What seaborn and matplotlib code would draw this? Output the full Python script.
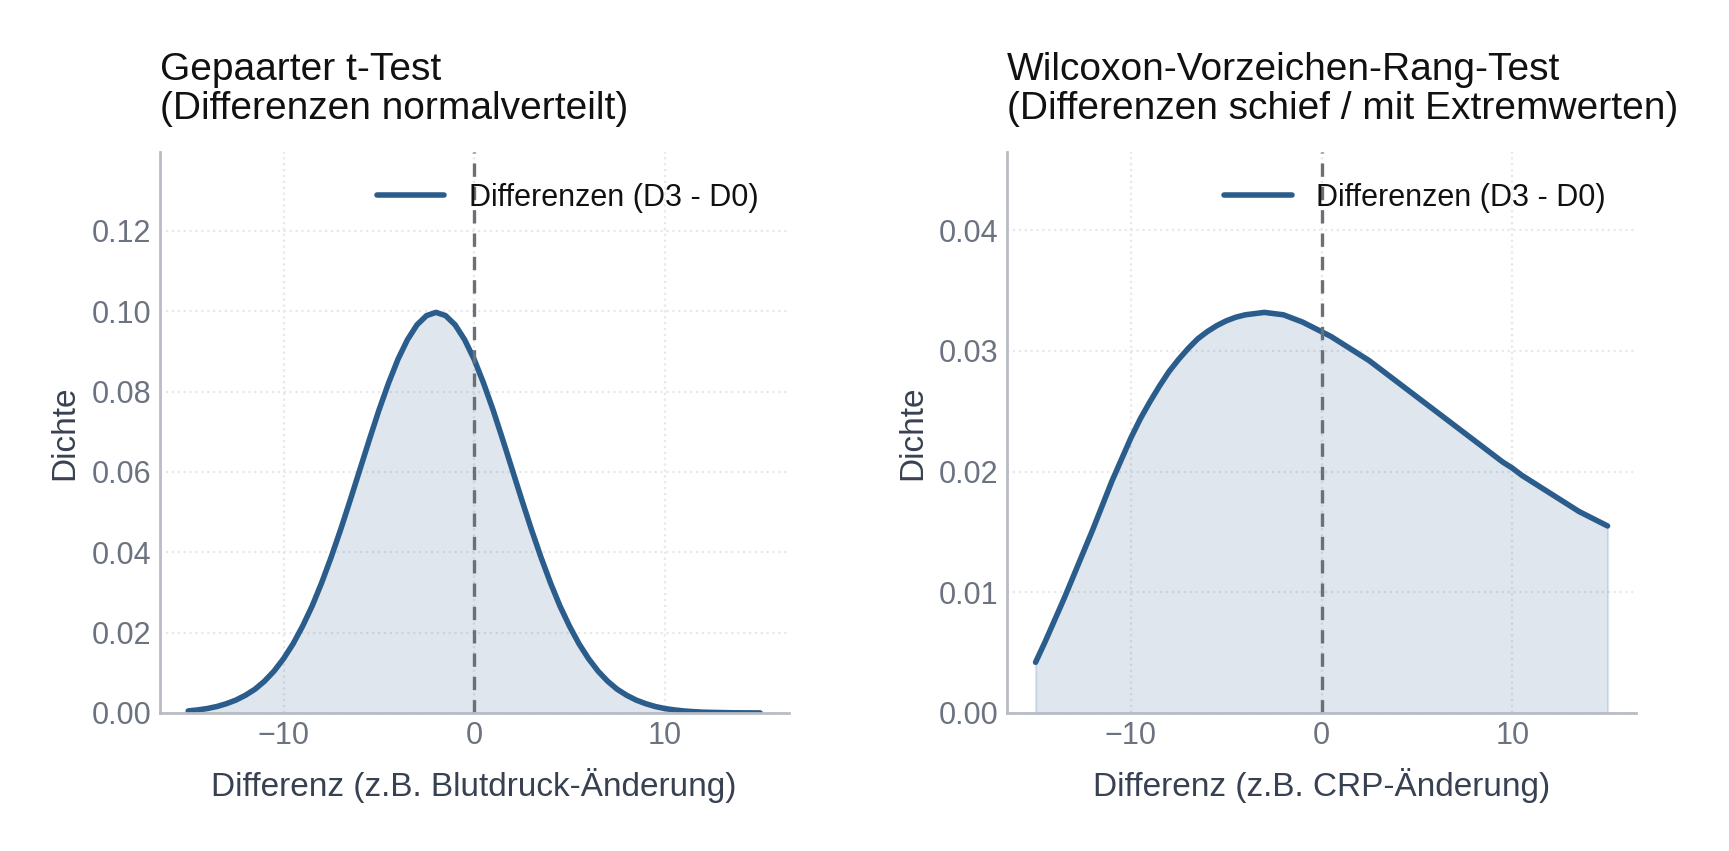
import numpy as np
import pandas as pd
import matplotlib
matplotlib.use("Agg")
import matplotlib.pyplot as plt
import seaborn as sns

# ---- data ----
x_vals = [-15, -14.5, -14, -13.5, -13, -12.5, -12, -11.5, -11, -10.5, -10, -9.5,
          -9, -8.5, -8, -7.5, -7, -6.5, -6, -5.5, -5, -4.5, -4, -3.5, -3, -2.5,
          -2, -1.5, -1, -0.5, 0, 0.5, 1, 1.5, 2, 2.5, 3, 3.5, 4, 4.5, 5, 5.5,
          6, 6.5, 7, 7.5, 8, 8.5, 9, 9.5, 10, 10.5, 11, 11.5, 12, 12.5, 13, 13.5,
          14, 14.5, 15]

dens_paired = [0.0005, 0.00076, 0.0011, 0.0016, 0.0023, 0.0032, 0.0044, 0.0059,
               0.0079, 0.0104, 0.0135, 0.0172, 0.0216, 0.0266, 0.0324, 0.0388,
               0.0457, 0.0530, 0.0605, 0.0680, 0.0753, 0.0820, 0.0880, 0.0929,
               0.0966, 0.0989, 0.0997, 0.0989, 0.0966, 0.0929, 0.0880, 0.0820,
               0.0753, 0.0680, 0.0605, 0.0530, 0.0457, 0.0388, 0.0324, 0.0266,
               0.0216, 0.0172, 0.0135, 0.0104, 0.0079, 0.0059, 0.0044, 0.0032,
               0.0023, 0.0016, 0.0011, 0.00076, 0.0005, 0.00033, 0.0002, 0.00014,
               0.0001, 0.00005, 0.00003, 0.00002, 0.00001]

dens_wilcoxon = [0.0042, 0.0059, 0.0077, 0.0095, 0.0114, 0.0133, 0.0152, 0.0172,
                 0.0192, 0.0210, 0.0228, 0.0244, 0.0258, 0.0271, 0.0283, 0.0293,
                 0.0302, 0.0310, 0.0316, 0.0321, 0.0325, 0.0328, 0.0330, 0.0331,
                 0.0332, 0.0331, 0.0330, 0.0327, 0.0324, 0.0320, 0.0316, 0.0312,
                 0.0307, 0.0302, 0.0297, 0.0292, 0.0286, 0.0280, 0.0274, 0.0268,
                 0.0262, 0.0256, 0.0250, 0.0244, 0.0238, 0.0232, 0.0226, 0.0220,
                 0.0214, 0.0208, 0.0203, 0.0197, 0.0192, 0.0187, 0.0182, 0.0177,
                 0.0172, 0.0167, 0.0163, 0.0159, 0.0155]

titles = ["Gepaarter t-Test\n(Differenzen normalverteilt)",
          "Wilcoxon-Vorzeichen-Rang-Test\n(Differenzen schief / mit Extremwerten)"]
xlabels = ["Differenz (z.B. Blutdruck-Änderung)", "Differenz (z.B. CRP-Änderung)"]
ylabel = "Dichte"
legend_label = "Differenzen (D3 - D0)"

# ---- style ----
sns.set_theme(style="white")
plt.rcParams['font.family'] = ['Liberation Sans', 'DejaVu Sans']

LINE = "#2b5d8c"
VLINE = "#6b6f76"
TICK = "#6b7280"
LABEL = "#374151"
SPINE = "#b8bcc4"
GRID = "#e6e8ec"

fig = plt.figure(figsize=(8.645, 4.255), dpi=200)
ax1 = fig.add_axes([0.0923, 0.1622, 0.3639, 0.659])
ax2 = fig.add_axes([0.5824, 0.1622, 0.3639, 0.659])

for ax, dens, title, xl in zip([ax1, ax2], [dens_paired, dens_wilcoxon], titles, xlabels):
    df = pd.DataFrame({"x": x_vals, "y": dens})
    sns.lineplot(data=df, x="x", y="y", ax=ax, color=LINE, linewidth=2.0,
                 label=legend_label)
    ax.fill_between(df["x"], df["y"], color=LINE, alpha=0.15, linewidth=0.8)
    ax.axvline(0, color=VLINE, linestyle=(0, (4, 3)), linewidth=1.2)
    ax.set_ylim(0, max(dens) * 1.4)
    ax.set_xlim(-16.5, 16.5)
    ax.set_title(title, loc="left", fontsize=14, color="#111111", pad=12,
                 linespacing=1.1)
    ax.set_xlabel(xl, fontsize=12, color=LABEL, labelpad=6)
    ax.set_ylabel(ylabel, fontsize=12, color=LABEL, labelpad=4)
    ax.tick_params(axis="both", labelsize=11, colors=TICK, length=0, pad=3)
    ax.grid(True, linestyle=":", color=GRID, linewidth=0.8)
    for s in ["top", "right"]:
        ax.spines[s].set_visible(False)
    for s in ["left", "bottom"]:
        ax.spines[s].set_color(SPINE)
        ax.spines[s].set_linewidth(1.0)
    leg = ax.legend(loc="upper right", frameon=False, fontsize=11,
                    handlelength=2.2, borderaxespad=0.6)
    for t in leg.get_texts():
        t.set_color("#111111")

ax1.set_xticks([-10, 0, 10])
ax2.set_xticks([-10, 0, 10])
ax1.set_yticks([0, 0.02, 0.04, 0.06, 0.08, 0.10, 0.12])
ax2.set_yticks([0, 0.01, 0.02, 0.03, 0.04])
ax1.yaxis.set_major_formatter(matplotlib.ticker.FormatStrFormatter("%.2f"))
ax2.yaxis.set_major_formatter(matplotlib.ticker.FormatStrFormatter("%.2f"))

fig.savefig("out.png", dpi=200)
